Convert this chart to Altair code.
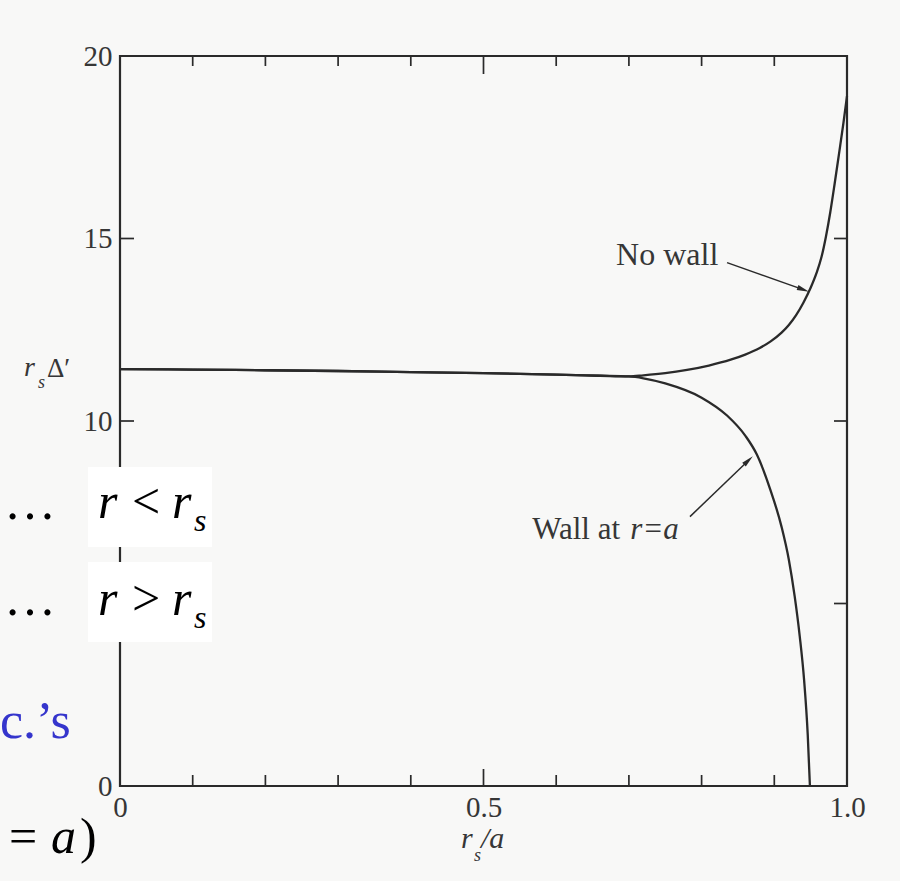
import altair as alt
import pandas as pd

# Plot-area geometry (pixels)
OX, OY = 120, 56          # top-left corner of the plot area in the page
W, H = 727, 730           # plot-area size
SERIF = "Liberation Serif"
INK = "#2a2a2a"
LABEL = "#363636"

# Flat part shared by both curves
x_common = [0.0, 0.1, 0.2, 0.3, 0.4, 0.5, 0.6, 0.66, 0.7]
y_common = [11.42, 11.41, 11.39, 11.37, 11.34, 11.31, 11.27, 11.24, 11.22]

# Branch without a conducting wall
x_nowall = [0.72, 0.75, 0.78, 0.81, 0.84, 0.86, 0.88, 0.895, 0.91, 0.92,
            0.93, 0.94, 0.95, 0.958, 0.965, 0.971, 0.977, 0.983, 0.989, 0.995, 1.0]
y_nowall = [11.25, 11.31, 11.40, 11.52, 11.68, 11.82, 12.0, 12.18, 12.42, 12.63,
            12.9, 13.24, 13.65, 14.05, 14.5, 15.05, 15.72, 16.5, 17.32, 18.15, 18.9]

# Branch with a wall at r = a
x_wall = [0.72, 0.75, 0.8, 0.835, 0.86, 0.876, 0.894, 0.91, 0.92, 0.928,
          0.935, 0.941, 0.946, 0.949]
y_wall = [11.17, 11.03, 10.64, 10.15, 9.6, 9.08, 8.15, 7.1, 6.2, 5.2,
          4.1, 2.9, 1.4, 0.0]

# Axis ticks
x_minor_ticks = [0.1, 0.2, 0.3, 0.4, 0.6, 0.7, 0.8, 0.9]
x_major_ticks = [0.5]
y_ticks = [5, 10, 15]
x_tick_labels = [0, 0.5, 1.0]
y_tick_labels = [0, 10, 15, 20]

# Annotation arrows: tail -> head (data units)
arrow_names = ["No wall", "Wall at r=a"]
arrow_x0 = [0.835, 0.784]
arrow_y0 = [14.34, 7.38]
arrow_x1 = [0.9399, 0.8644]
arrow_y1 = [13.60, 8.92]
arrow_angles = [109.7, 46.0]

rows = []
for name, xs, ys in [("No wall", x_nowall, y_nowall), ("Wall", x_wall, y_wall)]:
    for xv, yv in zip(x_common + xs, y_common + ys):
        rows.append({"series": name, "x": xv, "y": yv})
curves_df = pd.DataFrame(rows)

x_scale = alt.Scale(domain=[0, 1], nice=False)
y_scale = alt.Scale(domain=[0, 20], nice=False)

curves = alt.Chart(curves_df).mark_line(
    color=INK, strokeWidth=2.3, interpolate="monotone"
).encode(
    x=alt.X("x:Q", scale=x_scale, axis=alt.Axis(
        values=x_tick_labels,
        labelExpr="datum.value == 0 ? '0' : format(datum.value, '.1f')",
        ticks=False, domain=False, grid=False, labelFlush=False,
        labelFont=SERIF, labelFontSize=29, labelColor=LABEL,
        labelPadding=7, title=None)),
    y=alt.Y("y:Q", scale=y_scale, axis=alt.Axis(
        values=y_tick_labels, format="d",
        ticks=False, domain=False, grid=False, labelFlush=False,
        labelFont=SERIF, labelFontSize=29, labelColor=LABEL,
        labelPadding=8, title=None)),
    detail="series:N",
)

# Inward-pointing ticks on all four sides
def xticks(values, length, top):
    y0, y1 = (0, length) if top else (H, H - length)
    return alt.Chart(pd.DataFrame({"x": values})).mark_rule(
        color=INK, strokeWidth=1.7
    ).encode(x="x:Q", y=alt.value(y0), y2=alt.value(y1))

def yticks(values, length, right):
    x0, x1 = (W, W - length) if right else (0, length)
    return alt.Chart(pd.DataFrame({"y": values})).mark_rule(
        color=INK, strokeWidth=1.7
    ).encode(y="y:Q", x=alt.value(x0), x2=alt.value(x1))

ticks = [
    xticks(x_minor_ticks, 11, False), xticks(x_major_ticks, 17, False),
    xticks(x_minor_ticks, 10, True), xticks(x_major_ticks, 18, True),
    yticks(y_ticks, 14, False), yticks(y_ticks, 13, True),
]

arrows_df = pd.DataFrame({"name": arrow_names, "x": arrow_x0, "y": arrow_y0,
                          "x2": arrow_x1, "y2": arrow_y1})
arrow_lines = alt.Chart(arrows_df).mark_rule(color=INK, strokeWidth=1.5).encode(
    x="x:Q", y="y:Q", x2="x2:Q", y2="y2:Q")

heads = []
for i in range(len(arrow_names)):
    heads.append(
        alt.Chart(pd.DataFrame({"x": [arrow_x1[i]], "y": [arrow_y1[i]]})).mark_point(
            shape="M0,-1L0.42,1L-0.42,1Z", filled=True, size=150,
            color=INK, opacity=1, angle=arrow_angles[i]
        ).encode(x="x:Q", y="y:Q")
    )

def data_text(text, xv, yv, size, italic=False, align="left"):
    return alt.Chart(pd.DataFrame({"x": [xv], "y": [yv], "t": [text]})).mark_text(
        align=align, baseline="alphabetic", font=SERIF, fontSize=size,
        fontStyle="italic" if italic else "normal", color=LABEL
    ).encode(x="x:Q", y="y:Q", text="t:N")

def px_text(text, px, py, size, italic=False, color="#000000", align="left"):
    return alt.Chart(pd.DataFrame({"t": [text]})).mark_text(
        align=align, baseline="alphabetic", font=SERIF, fontSize=size,
        fontStyle="italic" if italic else "normal", color=color
    ).encode(x=alt.value(px - OX), y=alt.value(py - OY), text="t:N")

annotations = [
    data_text("No wall", 0.823, 14.27, 32, align="right"),
    data_text("Wall at ", 0.567, 6.78, 31),
    data_text("r=a", 0.702, 6.78, 31, italic=True),
]

# Axis titles
titles = [
    px_text("r", 24, 376, 28, italic=True, color=LABEL),
    px_text("s", 38, 388, 18, italic=True, color=LABEL),
    px_text("\u0394\u2032", 47, 377, 27, color=LABEL),
    px_text("r", 461, 848, 30, italic=True, color=LABEL),
    px_text("s", 474, 861, 18, italic=True, color=LABEL),
    px_text("/a", 481, 848, 30, italic=True, color=LABEL),
]

# White text boxes of the slide laid over the figure
def white_box(x0, y0, x1, y1):
    return alt.Chart(pd.DataFrame({"b": [0]})).mark_rect(color="#ffffff").encode(
        x=alt.value(x0 - OX), x2=alt.value(x1 - OX),
        y=alt.value(y0 - OY), y2=alt.value(y1 - OY))

boxes = [white_box(88, 467, 212, 547), white_box(88, 562, 212, 642)]

slide_text = [
    px_text("\u2026", 4, 519, 52),
    px_text("r", 98, 518, 50, italic=True),
    px_text("<", 132, 518, 50),
    px_text("r", 172, 518, 50, italic=True),
    px_text("s", 194, 531, 32, italic=True),
    px_text("\u2026", 4, 615, 52),
    px_text("r", 98, 615, 50, italic=True),
    px_text(">", 132, 615, 50),
    px_text("r", 172, 615, 50, italic=True),
    px_text("s", 194, 628, 32, italic=True),
    px_text("c.\u2019s", 0, 738, 52, color="#3535cc"),
    px_text("=", 9, 853, 50),
    px_text("a", 51, 853, 50, italic=True),
    px_text(")", 80, 853, 50),
]

chart = alt.layer(
    curves, *ticks, arrow_lines, *heads, *annotations, *titles, *boxes, *slide_text
).properties(
    width=W, height=H,
    autosize=alt.AutoSizeParams(type="none"),
    padding={"left": OX, "top": OY, "right": 900 - OX - W, "bottom": 881 - OY - H},
    background="#f8f8f7",
).configure_view(
    stroke=INK, strokeWidth=2.2
)

chart.save("out.html", embed_options={"renderer": "svg", "actions": False})
